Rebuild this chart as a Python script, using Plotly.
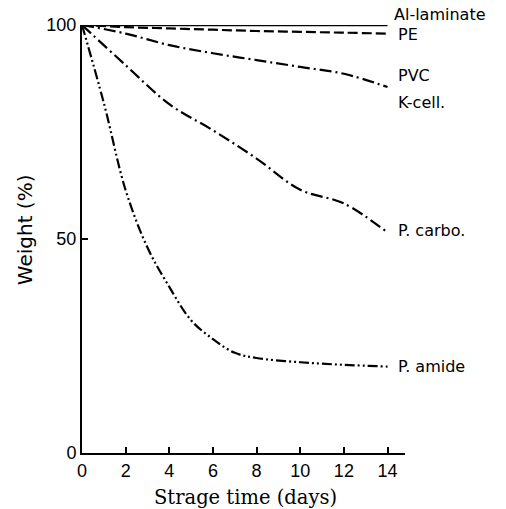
import plotly.graph_objects as go

days = [0, 2, 4, 6, 8, 10, 12, 14]
al_laminate = [100, 100, 100, 100, 100, 100, 100, 100]
pe = [100, 99.5, 99.2, 98.9, 98.6, 98.4, 98.2, 98.0]
pvc = [100, 98.0, 95.3, 93.4, 91.8, 90.2, 88.6, 85.5]
p_carbo = [100, 90.6, 81.5, 75.4, 68.8, 61.5, 58.3, 51.5]
amide_days = [0, 1, 2, 3, 4, 5, 6, 7, 8, 10, 12, 14]
p_amide = [100, 81.8, 61.4, 48, 38.8, 31.0, 26.6, 23.4, 22.2, 21.2, 20.6, 20.2]

labels = ["Al-laminate", "PE", "PVC", "K-cell.", "P. carbo.", "P. amide"]
label_y = [102.5, 97.7, 88.1, 82.0, 52.1, 20.1]
label_x = [0.963, 0.975, 0.975, 0.975, 0.975, 0.975]

x_ticks = [0, 2, 4, 6, 8, 10, 12, 14]
y_ticks = [0, 50, 100]
y_max = 100

fig = go.Figure()
line_w = 2.2
fig.add_trace(go.Scatter(x=days, y=al_laminate, mode="lines",
                         line=dict(color="black", width=2.6), cliponaxis=False))
fig.add_trace(go.Scatter(x=days, y=pe, mode="lines", line_shape="spline",
                         line=dict(color="black", width=line_w, dash="10px,4px"), cliponaxis=False))
fig.add_trace(go.Scatter(x=days, y=pvc, mode="lines", line_shape="spline",
                         line=dict(color="black", width=line_w, dash="12px,4px,2px,4px"), cliponaxis=False))
fig.add_trace(go.Scatter(x=days, y=p_carbo, mode="lines", line_shape="spline",
                         line=dict(color="black", width=line_w, dash="12px,4px,2px,4px"), cliponaxis=False))
fig.add_trace(go.Scatter(x=amide_days, y=p_amide, mode="lines", line_shape="spline",
                         line=dict(color="black", width=line_w, dash="10px,3px,2px,3px,2px,3px"), cliponaxis=False))

for lab, xv, yv in zip(labels, label_x, label_y):
    fig.add_annotation(x=xv, xref="paper", y=yv / y_max, yref="paper", text=lab, showarrow=False,
                       xanchor="left", yanchor="middle", borderpad=0,
                       font=dict(family="DejaVu Sans", size=16, color="black"))

fig.add_annotation(x=0.505, xref="paper", y=-0.103, yref="paper", text="Strage time (days)",
                   showarrow=False, xanchor="center", yanchor="middle",
                   font=dict(family="DejaVu Serif", size=19.5, color="black"))
fig.add_annotation(x=-0.176, xref="paper", y=0.521, yref="paper", text="Weight (%)",
                   showarrow=False, xanchor="center", yanchor="middle", textangle=-90,
                   font=dict(family="DejaVu Sans", size=20, color="black"))

fig.update_layout(
    width=506, height=509,
    margin=dict(l=82, r=101, t=25, b=56),
    plot_bgcolor="white", paper_bgcolor="white",
    showlegend=False,
)
fig.update_xaxes(range=[0, 14.8], tickvals=x_ticks, ticktext=[str(v) for v in x_ticks],
                 ticks="inside", ticklen=6, tickwidth=2, tickcolor="black",
                 showline=True, linecolor="black", linewidth=2, showgrid=False, zeroline=False,
                 tickfont=dict(family="Liberation Sans", size=18, color="black"))
fig.update_yaxes(range=[0, y_max], tickvals=y_ticks, ticktext=[str(v) for v in y_ticks],
                 ticks="inside", ticklen=6, tickwidth=2, tickcolor="black",
                 showline=True, linecolor="black", linewidth=2, showgrid=False, zeroline=False,
                 tickfont=dict(family="Liberation Sans", size=18, color="black"))

fig.write_html("out.html", config={"displayModeBar": False},
               post_script="document.body.style.margin='0';document.body.style.overflow='hidden';")
